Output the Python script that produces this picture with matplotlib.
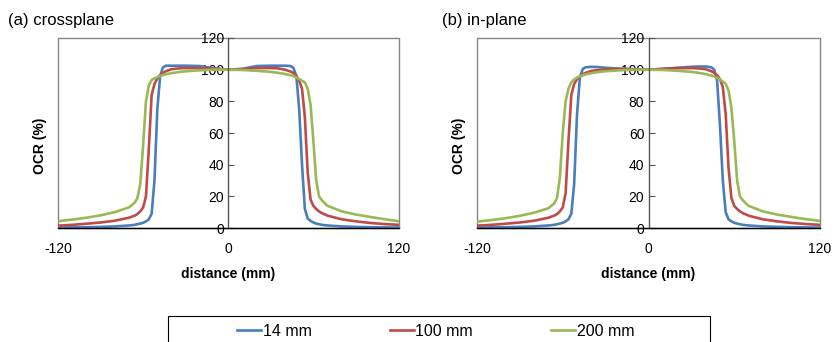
import matplotlib.pyplot as plt
from matplotlib.patches import Rectangle

plt.rcParams['font.family'] = ['Liberation Sans', 'DejaVu Sans']
plt.rcParams['axes.unicode_minus'] = False

# sample positions (mm)
distance = [-120, -110, -100, -90, -80, -70, -66, -64, -62, -60, -58, -56, -54, -52,
            -50, -48, -46, -44, -40, -35, -30, -20, -10, 0, 10, 20, 30, 35, 40, 44,
            46, 48, 50, 52, 54, 56, 58, 60, 62, 64, 66, 70, 80, 90, 100, 110, 120]

# (a) crossplane
cross_14 = [0.3, 0.4, 0.5, 0.7, 1.0, 1.6, 2.0, 2.4, 2.8, 3.3, 4.2, 5.5, 9, 30,
            75, 96, 101.5, 102.5, 102.5, 102.5, 102.5, 102.3, 100.8, 100, 100.5, 102.3, 102.5, 102.5, 102.5, 102.3,
            101, 96, 75, 40, 12, 6, 4.5, 3.5, 2.8, 2.4, 2.0, 1.6, 1.0, 0.7, 0.5, 0.4, 0.3]
cross_100 = [1.5, 2.0, 2.7, 3.5, 4.6, 6.5, 7.8, 8.8, 10.5, 13, 20, 50, 84, 91,
             94.5, 96.5, 98, 99, 100.3, 100.8, 101, 101, 100.6, 100, 100.4, 101, 101, 100.8, 100, 98.8,
             97.8, 96, 93, 88, 70, 35, 18, 14, 12, 10.5, 9.4, 7.8, 5.5, 4.2, 3.2, 2.5, 2.0]
cross_200 = [4.3, 5.3, 6.5, 8.0, 10.0, 13, 16, 19, 28, 52, 80, 90, 93.5, 94.5,
             95.3, 96, 96.6, 97.1, 97.8, 98.5, 99, 99.6, 100, 100, 99.8, 99.3, 98.6, 98, 97.3, 96.5,
             96, 95, 94, 93, 92, 88, 78, 55, 30, 20, 17.5, 14, 10.5, 8.5, 7, 5.6, 4.3]

# (b) in-plane
in_14 = [0.3, 0.4, 0.5, 0.7, 1.0, 1.6, 2.0, 2.4, 2.8, 3.3, 4.2, 5.5, 9, 28,
         72, 95, 100.5, 101.5, 101.8, 101.6, 101.2, 100.6, 100.2, 100, 100.5, 101.2, 101.8, 102, 102, 101.5,
         100, 93, 65, 30, 10, 5.5, 4.2, 3.3, 2.8, 2.4, 2.0, 1.6, 1.0, 0.7, 0.5, 0.4, 0.3]
in_100 = [1.5, 2.0, 2.7, 3.5, 4.6, 6.5, 7.8, 8.8, 10.5, 13, 22, 55, 84, 91,
          94, 95.8, 97, 98, 99.2, 99.8, 100.2, 100.5, 100.3, 100, 100.5, 100.9, 101, 100.8, 100.3, 99,
          98, 96.5, 94, 89, 72, 38, 19, 14, 12, 10.5, 9.4, 7.8, 5.5, 4.2, 3.2, 2.5, 2.0]
in_200 = [4.0, 5.0, 6.2, 7.7, 9.7, 12.5, 15.5, 19, 32, 60, 80, 88, 92, 93.8,
          95, 95.8, 96.5, 97, 97.8, 98.5, 99, 99.6, 100, 100, 99.8, 99.3, 98.6, 98, 97.2, 96.3,
          95.7, 94.8, 93.8, 92.5, 91, 87, 76, 55, 30, 20, 17.5, 14, 10.5, 8.5, 7, 5.6, 4.5]

labels = ['14 mm', '100 mm', '200 mm']
colors = ['#4A7EBB', '#BE4B48', '#98B954']
panels = [('(a) crossplane', [cross_14, cross_100, cross_200]),
          ('(b) in-plane', [in_14, in_100, in_200])]

fig = plt.figure(figsize=(8.35, 3.42), dpi=100)
fig.patch.set_facecolor('white')

boxes = [(58 / 835, 0.3333, 340.5 / 835, 0.5556),
         (477 / 835, 0.3333, 343 / 835, 0.5556)]
title_x = [8 / 835, 442 / 835]

for (title, series), box, tx in zip(panels, boxes, title_x):
    ax = fig.add_axes(box)
    lines = []
    for ys, lab, c in zip(series, labels, colors):
        ln, = ax.plot(distance, ys, color=c, lw=1.9, label=lab, solid_joinstyle='round')
        lines.append(ln)
    ax.set_xlim(-120, 120)
    ax.set_ylim(0, 120)
    ax.set_xticks([-120, 0, 120])
    ax.set_yticks(range(0, 121, 20))

    # gray frame around plot area, axes crossing at x=0
    for s in ['top', 'right']:
        ax.spines[s].set_visible(False)
    ax.add_patch(Rectangle((0, 0), 1, 1, transform=ax.transAxes, fill=False,
                           ec='#868686', lw=1.0, clip_on=False, zorder=0.5))
    ax.spines['left'].set_position(('data', 0))
    ax.spines['left'].set_color('#555555')
    ax.spines['left'].set_linewidth(1.0)
    ax.spines['bottom'].set_color('black')
    ax.spines['bottom'].set_linewidth(1.0)
    ax.spines['bottom'].set_zorder(3)

    ax.tick_params(axis='y', direction='in', length=4, width=0.8, pad=3,
                   labelsize=10, color='#555555')
    ax.tick_params(axis='x', length=0, pad=10, labelsize=10)

    ax.set_ylabel('OCR (%)', fontsize=10, fontweight='bold', va='center')
    ax.yaxis.set_label_coords(-0.052, 0.43)
    ax.set_xlabel('distance (mm)', fontsize=10, fontweight='bold')
    ax.xaxis.set_label_coords(0.5, -0.24)
    ax.xaxis.label.set_va('center')

    fig.text(tx, 1 - 20 / 342, title, fontsize=12, ha='left', va='center')

# legend box (cut off by the bottom edge, as in the original)
fig.patches.append(Rectangle((168 / 835, -0.1), 542 / 835, 0.1 + 1 - 316 / 342,
                             transform=fig.transFigure, fill=False, ec='black', lw=0.8))
leg = fig.legend(lines, labels, loc='center left', ncol=3, frameon=False,
                 bbox_to_anchor=(237 / 835, 1 - 331 / 342), borderaxespad=0, borderpad=0,
                 fontsize=11.5, handlelength=1.5, handletextpad=0.1, columnspacing=4.9)

fig.savefig('out.png', dpi=100)
